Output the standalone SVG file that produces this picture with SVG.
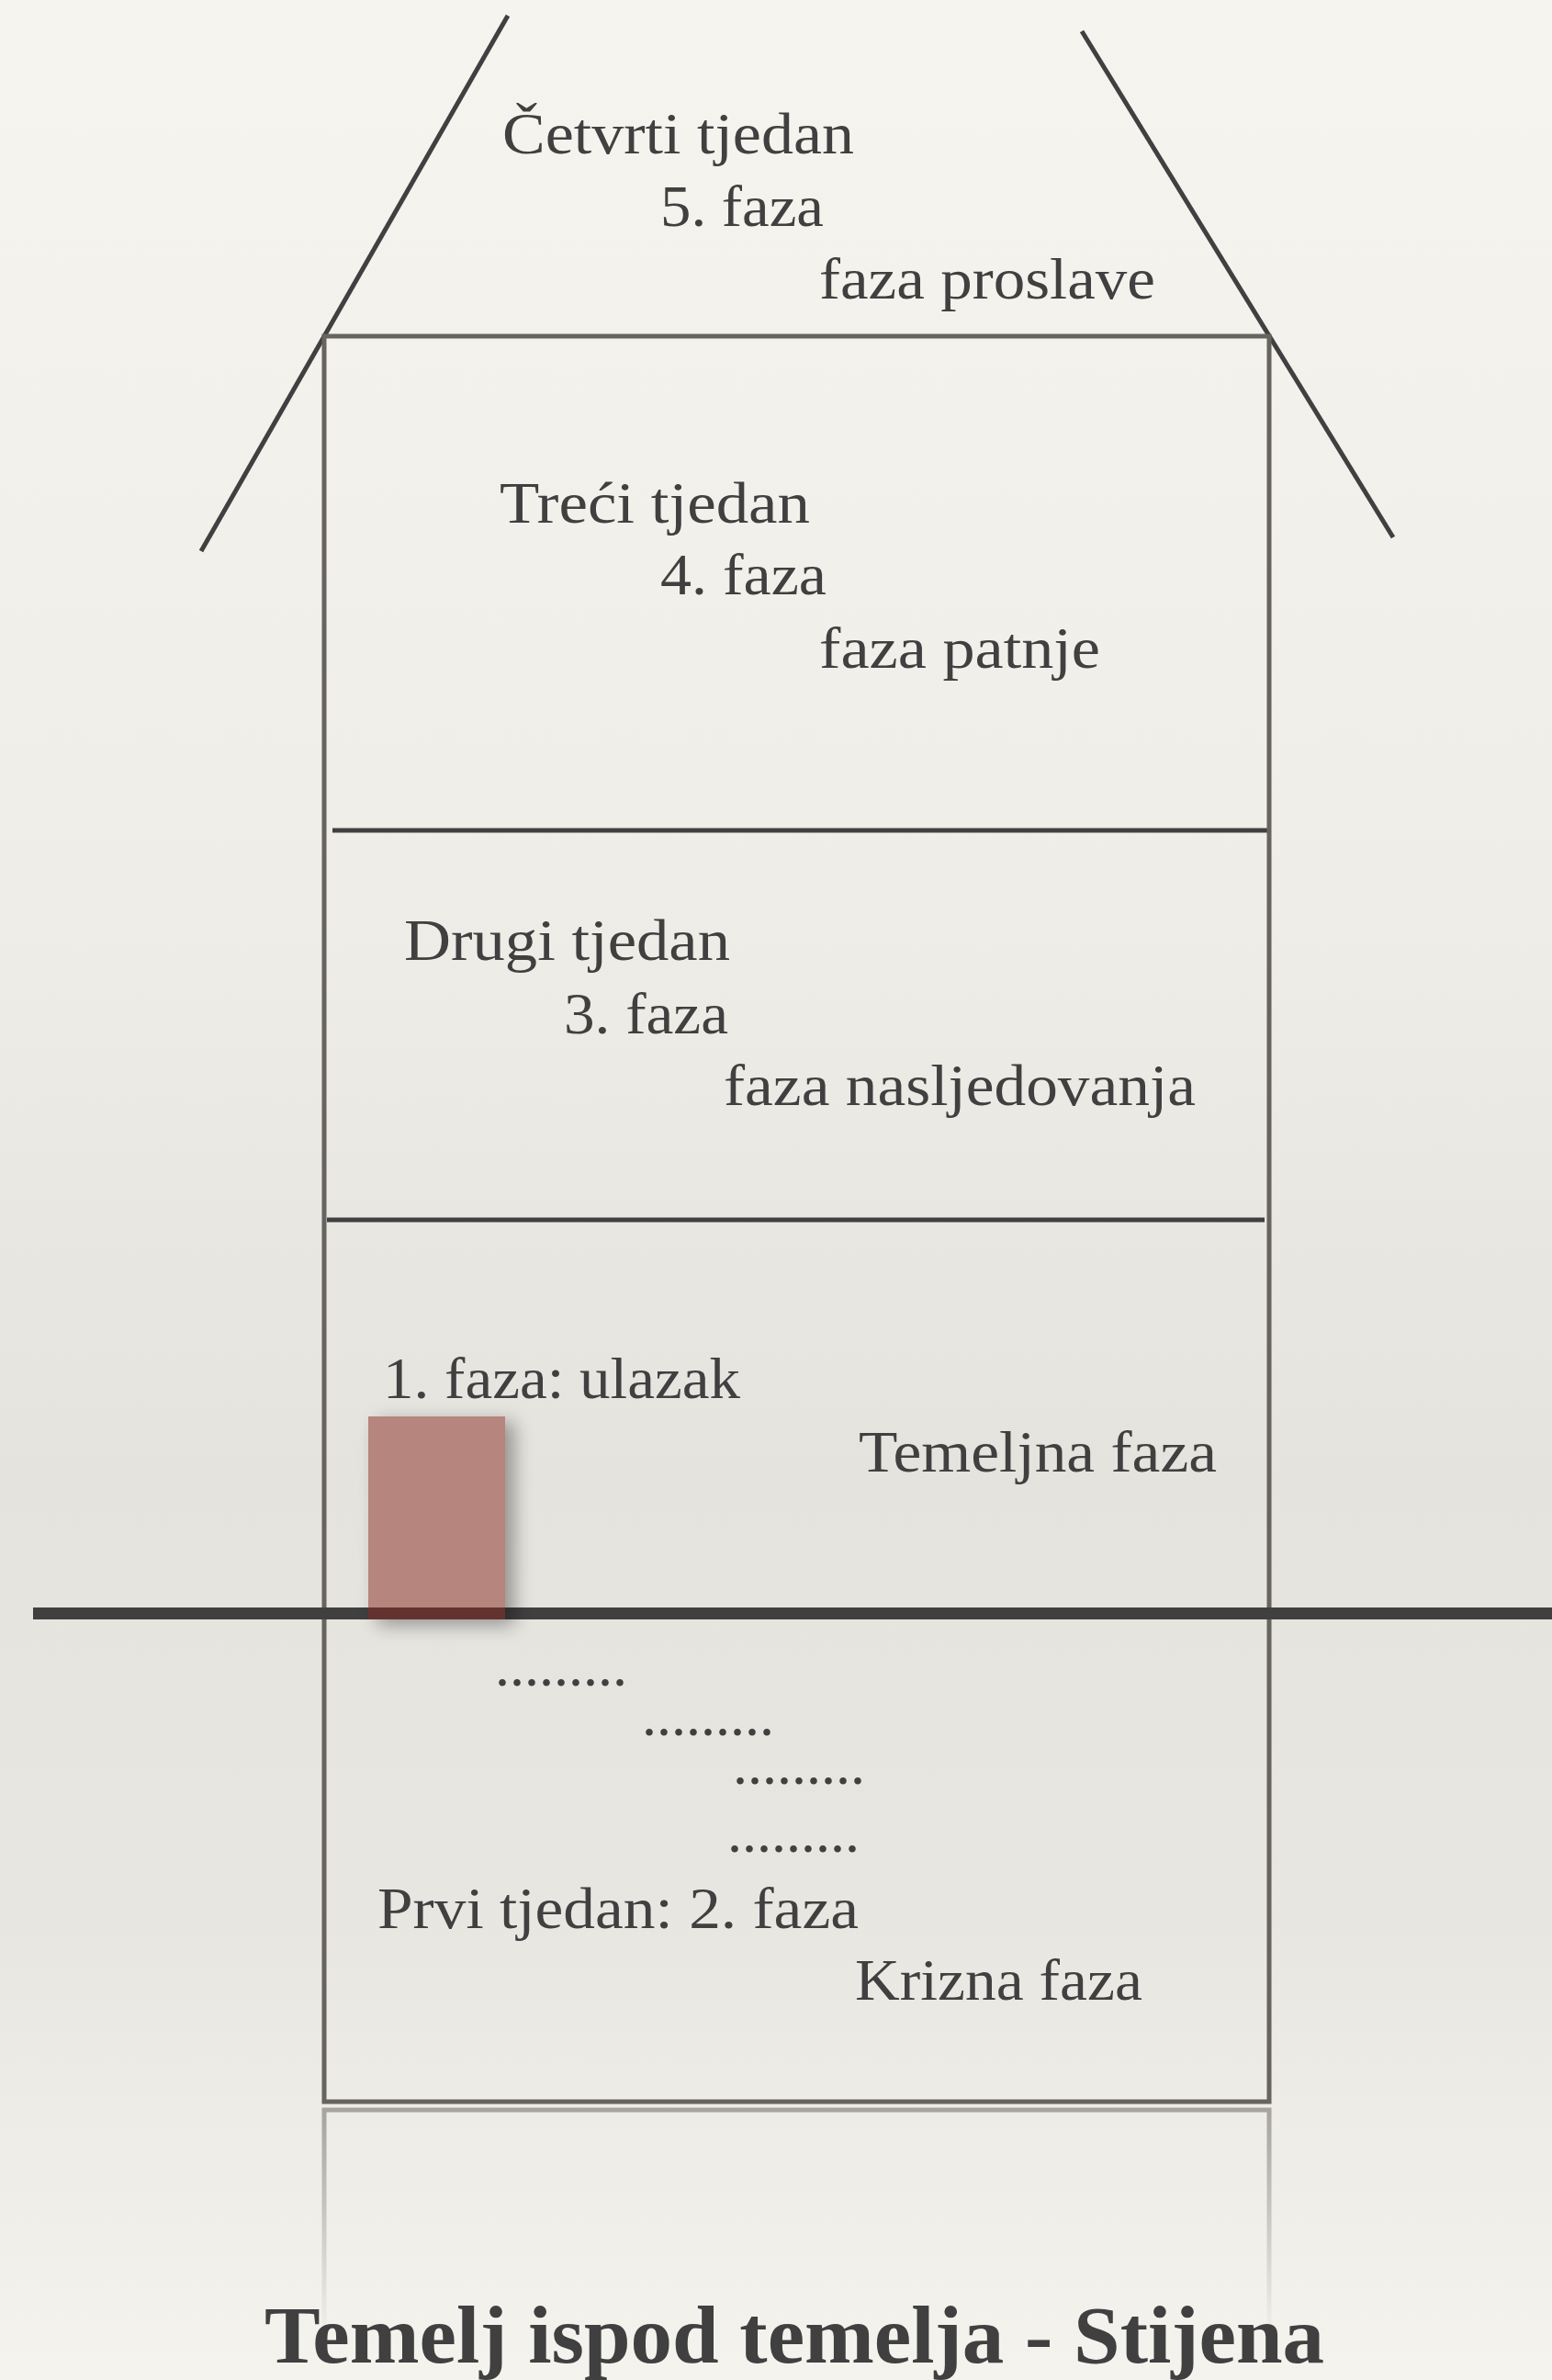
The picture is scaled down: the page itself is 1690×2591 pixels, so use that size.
<svg xmlns="http://www.w3.org/2000/svg" width="1690" height="2591" viewBox="0 0 1690 2591">
  <defs>
    <linearGradient id="bg" x1="0" y1="0" x2="0" y2="1">
      <stop offset="0" stop-color="#f6f4ef"/>
      <stop offset="0.35" stop-color="#f0eee9"/>
      <stop offset="0.62" stop-color="#e5e3de"/>
      <stop offset="0.8" stop-color="#e8e6e1"/>
      <stop offset="1" stop-color="#f5f3ee"/>
    </linearGradient>
    <linearGradient id="refl" x1="0" y1="2290" x2="0" y2="2545" gradientUnits="userSpaceOnUse">
      <stop offset="0" stop-color="#9d9a95" stop-opacity="0.9"/>
      <stop offset="1" stop-color="#9d9a95" stop-opacity="0"/>
    </linearGradient>
    <filter id="shadow" x="-50%" y="-50%" width="200%" height="200%">
      <feGaussianBlur stdDeviation="10"/>
    </filter>
    <style>
      .t { font-family: "Liberation Serif", "DejaVu Serif", serif; font-size: 64px; fill: #404040; }
      .title { font-family: "Liberation Serif", "DejaVu Serif", serif; font-size: 88px; font-weight: bold; fill: #404040; }
      .frame { fill: none; stroke: #67635e; stroke-width: 5; }
      .ln { stroke: #404040; stroke-width: 5; fill: none; }
    </style>
  </defs>

  <rect x="0" y="0" width="1690" height="2591" fill="url(#bg)"/>

  <!-- reflection -->
  <g id="reflection" fill="none" stroke="url(#refl)" stroke-width="5">
    <path d="M353 2545 V2297 H1382 V2545"/>
  </g>

  <g id="connectors">
    <line class="ln" x1="553" y1="17" x2="219" y2="600"/>
    <line class="ln" x1="1178" y1="34" x2="1517" y2="585"/>
    <line class="ln" x1="362" y1="904" x2="1382" y2="904"/>
    <line class="ln" x1="356" y1="1328" x2="1377" y2="1328"/>
  </g>

  <g id="house">
    <rect class="frame" x="353" y="366" width="1029" height="1922"/>
  </g>

  <g id="ground">
    <rect x="36" y="1750" width="1654" height="13" fill="#404040"/>
  </g>

  <g id="door">
    <rect x="411" y="1548" width="149" height="221" fill="#000" opacity="0.35" filter="url(#shadow)"/>
    <rect x="401" y="1542" width="149" height="208" fill="#b5857e"/>
    <rect x="401" y="1750" width="149" height="13" fill="#633330"/>
  </g>

  <g id="floor5">
    <text class="t" x="547" y="167" textLength="383" lengthAdjust="spacingAndGlyphs">Četvrti tjedan</text>
    <text class="t" x="719" y="246" textLength="178" lengthAdjust="spacingAndGlyphs">5. faza</text>
    <text class="t" x="892" y="325" textLength="366" lengthAdjust="spacingAndGlyphs">faza proslave</text>
  </g>

  <g id="floor4">
    <text class="t" x="544" y="569" textLength="338" lengthAdjust="spacingAndGlyphs">Treći tjedan</text>
    <text class="t" x="719" y="647" textLength="181" lengthAdjust="spacingAndGlyphs">4. faza</text>
    <text class="t" x="892" y="727" textLength="306" lengthAdjust="spacingAndGlyphs">faza patnje</text>
  </g>

  <g id="floor3">
    <text class="t" x="440" y="1045" textLength="355" lengthAdjust="spacingAndGlyphs">Drugi tjedan</text>
    <text class="t" x="614" y="1125" textLength="179" lengthAdjust="spacingAndGlyphs">3. faza</text>
    <text class="t" x="788" y="1203" textLength="514" lengthAdjust="spacingAndGlyphs">faza nasljedovanja</text>
  </g>

  <g id="floor1">
    <text class="t" x="417" y="1522" textLength="389" lengthAdjust="spacingAndGlyphs">1. faza: ulazak</text>
    <text class="t" x="935" y="1602" textLength="390" lengthAdjust="spacingAndGlyphs">Temeljna faza</text>
  </g>

  <g id="basement">
    <text class="t" x="539" y="1835">.........</text>
    <text class="t" x="699" y="1889">.........</text>
    <text class="t" x="798" y="1942">.........</text>
    <text class="t" x="792" y="2016">.........</text>
    <text class="t" x="411" y="2099" textLength="524" lengthAdjust="spacingAndGlyphs">Prvi tjedan: 2. faza</text>
    <text class="t" x="931" y="2177" textLength="313" lengthAdjust="spacingAndGlyphs">Krizna faza</text>
  </g>

  <g id="title">
    <text class="title" x="288" y="2572" textLength="1154" lengthAdjust="spacingAndGlyphs">Temelj ispod temelja - Stijena</text>
  </g>
</svg>
